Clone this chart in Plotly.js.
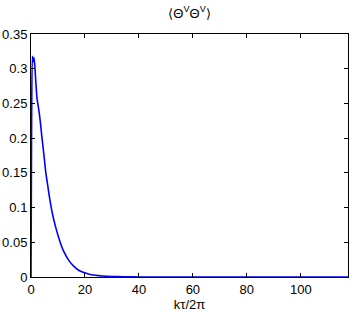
<!DOCTYPE html>
<html><head><meta charset="utf-8">
<script src="https://cdn.plot.ly/plotly-3.0.1.min.js"></script>
<style>html,body{margin:0;padding:0;background:#fff;}#plot{width:353px;height:312px;}</style>
</head><body><div id="plot"></div>
<script>
const k = [0, 0.2, 0.5, 0.8, 1.1, 1.4, 1.8, 2.2, 2.6, 3.0, 3.5, 4, 4.5, 5, 5.5, 6, 7, 8, 9, 10, 11, 12, 14, 16, 18, 20, 22, 25, 28, 32, 36, 40, 50, 60, 80, 100, 117.5];
const v = [0, 0.2, 0.318, 0.310, 0.316, 0.305, 0.28, 0.258, 0.248, 0.238, 0.222, 0.203, 0.186, 0.168, 0.150, 0.137, 0.111, 0.090, 0.074, 0.060, 0.048, 0.038, 0.024, 0.015, 0.009, 0.006, 0.0035, 0.002, 0.001, 0.0005, 0.0002, 0.0001, 0, 0, 0, 0, 0];
const xTicks = [0, 20, 40, 60, 80, 100];
const yTicks = [0, 0.05, 0.1, 0.15, 0.2, 0.25, 0.3, 0.35];
const titleText = '⟨Θ<sup>V</sup>Θ<sup>V</sup>⟩';
const xTitle = 'kτ/2π';

const font = {family: 'Liberation Sans, Arial, sans-serif', size: 13, color: '#000'};
Plotly.newPlot('plot', [{
  x: k, y: v, type: 'scatter', mode: 'lines',
  line: {color: '#0000ff', width: 1.6, shape: 'spline', smoothing: 0.6}
}], {
  width: 353, height: 312,
  margin: {l: 31, r: 5, t: 34, b: 35, pad: 0},
  paper_bgcolor: '#fff', plot_bgcolor: '#fff',
  font: font,
  showlegend: false,
  title: {text: titleText, font: {family: font.family, size: 13}, x: 0.537, xanchor: 'center', y: 0.958, yanchor: 'middle'},
  xaxis: {
    range: [0, 117.5], tickvals: xTicks, ticktext: xTicks.map(String),
    ticks: 'inside', ticklen: 4, tickcolor: '#000', tickwidth: 1,
    showline: true, linecolor: '#000', linewidth: 1, mirror: 'ticks',
    showgrid: false, zeroline: false, tickfont: font,
    title: {text: xTitle, font: font, standoff: 0}
  },
  yaxis: {
    range: [0, 0.35], tickvals: yTicks, ticktext: yTicks.map(String),
    ticks: 'inside', ticklen: 4, tickcolor: '#000', tickwidth: 1,
    showline: true, linecolor: '#000', linewidth: 1, mirror: 'ticks',
    showgrid: false, zeroline: false, tickfont: font
  }
}, {displayModeBar: false, staticPlot: true});
</script></body></html>
